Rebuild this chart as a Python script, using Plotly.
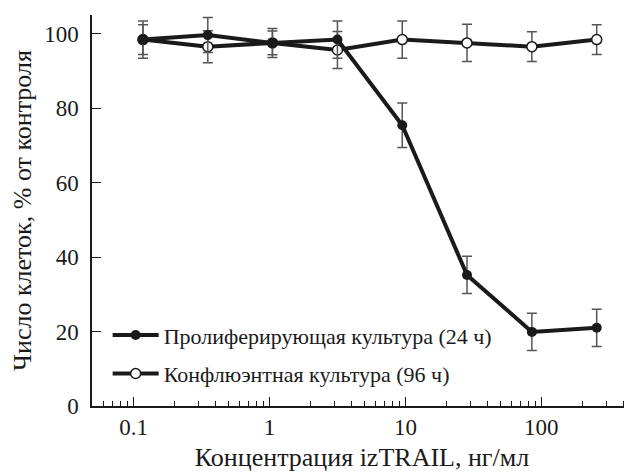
import plotly.graph_objects as go

conc = [0.117, 0.351, 1.05, 3.16, 9.48, 28.4, 85.3, 256]
prolif = [98.4, 99.6, 97.5, 98.4, 75.4, 35.2, 19.9, 21.0]
prolif_err = [4.0, 4.7, 3.9, 5.0, 6.0, 5.0, 5.0, 5.0]
confl = [98.4, 96.5, 97.5, 95.6, 98.4, 97.5, 96.5, 98.4]
confl_err = [5.0, 4.3, 3.2, 5.0, 5.0, 5.0, 4.0, 4.0]

name_prolif = "Пролиферирующая культура (24 ч)"
name_confl = "Конфлюэнтная культура (96 ч)"
x_title = "Концентрация izTRAIL, нг/мл"
y_title = "Число клеток, % от контроля"

FONT = "Liberation Serif, Times New Roman, DejaVu Serif, serif"
INK = "#1a1a1a"
err_style = dict(type="data", thickness=1.5, width=5, color="#555555")

fig = go.Figure()
fig.add_trace(go.Scatter(
    x=conc, y=confl, name=name_confl, mode="lines+markers",
    line=dict(color=INK, width=4),
    marker=dict(symbol="circle", size=10, color="white", line=dict(color=INK, width=1.5)),
    error_y=dict(array=confl_err, **err_style),
    legendgroup="b", legendrank=2,
))
fig.add_trace(go.Scatter(
    x=conc, y=prolif, name=name_prolif, mode="lines+markers",
    line=dict(color=INK, width=4),
    marker=dict(symbol="circle", size=10, color=INK),
    error_y=dict(array=prolif_err, **err_style),
    legendgroup="a", legendrank=1,
))

minor_vals = [0.05, 0.06, 0.07, 0.08, 0.09] + [m * d for d in (0.1, 1, 10) for m in range(2, 10)] + [200, 300, 400]

fig.update_layout(
    width=632, height=476,
    margin=dict(l=84, r=8, t=7, b=78, autoexpand=False),
    paper_bgcolor="white", plot_bgcolor="white",
    font=dict(family=FONT, size=22, color=INK),
    showlegend=True,
    legend=dict(
        x=0.029, y=0.235, xanchor="left", yanchor="top",
        font=dict(family=FONT, size=22, color=INK),
        bgcolor="rgba(0,0,0,0)", tracegroupgap=7,
        traceorder="grouped", itemwidth=46,
    ),
    xaxis=dict(
        type="log", range=[-1.307, 2.668], automargin=False,
        tickvals=[0.1, 1, 10, 100], ticktext=["0.1", "1", "10", "100"],
        ticks="inside", ticklen=9, tickwidth=1.2, tickcolor=INK,
        showline=True, linecolor=INK, linewidth=1.5,
        showgrid=False, zeroline=False, ticklabelstandoff=0,
        minor=dict(tickvals=minor_vals, ticks="inside", ticklen=5, tickwidth=1, tickcolor=INK, showgrid=False),
        title=dict(text=x_title, font=dict(family=FONT, size=26), standoff=8),
        tickfont=dict(family=FONT, size=23),
    ),
    yaxis=dict(
        range=[0, 105], tickvals=[0, 20, 40, 60, 80, 100], automargin=False,
        ticks="inside", ticklen=9, tickwidth=1.2, tickcolor=INK,
        showline=True, linecolor=INK, linewidth=1.5,
        showgrid=False, zeroline=False, ticklabelstandoff=7,
        title=dict(text=y_title, font=dict(family=FONT, size=26), standoff=9),
        tickfont=dict(family=FONT, size=23),
    ),
)

fig.write_html("out.html")
